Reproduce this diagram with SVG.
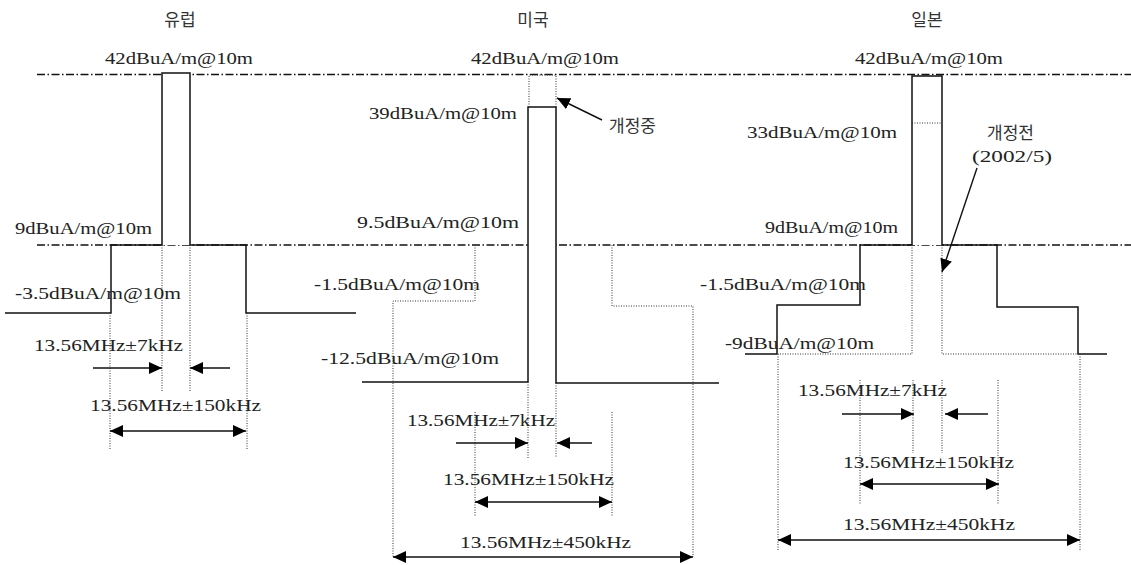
<svg xmlns="http://www.w3.org/2000/svg" width="1131" height="565" viewBox="0 0 1131 565">
<defs>
<style>
.t{font-family:"Liberation Serif","Times New Roman",serif;font-size:17px;fill:#222}
.k{font-family:"Noto Sans CJK KR","Noto Sans",sans-serif;font-size:17px;fill:#333}
.dd{fill:none;stroke:#111;stroke-width:1.3;stroke-dasharray:8 2.5 1.5 2.5}
.dot{fill:none;stroke:#333;stroke-width:1;stroke-dasharray:1 1.5}
.sol{fill:none;stroke:#111;stroke-width:1.5}
.wh{fill:#fff;stroke:none}
.ar{fill:none;stroke:#111;stroke-width:1.4}
</style>
<marker id="ah" viewBox="0 0 13 12" refX="13" refY="6" markerWidth="13" markerHeight="12" markerUnits="userSpaceOnUse" orient="auto-start-reverse">
<path d="M0,0 L13,6 L0,12 Z" fill="#000"/>
</marker>
</defs>
<rect width="1131" height="565" fill="#fff"/>
<g id="reference-lines">
<line class="dd" x1="37" y1="74.5" x2="1131" y2="74.5"/>
<line class="dd" x1="37" y1="245" x2="1131" y2="245"/>
</g>
<g id="europe">
<text class="k" x="180" y="26" text-anchor="middle">유럽</text>
<text class="t" x="105" y="64" textLength="148" lengthAdjust="spacingAndGlyphs">42dBuA/m@10m</text>
<rect class="wh" x="162" y="73" width="28" height="172"/>
<path class="sol" d="M5,313 H111 V245 H162 V73 H190 V245 H246 V313 H356"/>
<path class="dot" d="M162,245 V392 M190,245 V392 M110,313 V449 M247,313 V449"/>
<text class="t" x="15" y="234" textLength="137" lengthAdjust="spacingAndGlyphs">9dBuA/m@10m</text>
<text class="t" x="15" y="299" textLength="166" lengthAdjust="spacingAndGlyphs">-3.5dBuA/m@10m</text>
<text class="t" x="34" y="351" textLength="149" lengthAdjust="spacingAndGlyphs">13.56MHz±7kHz</text>
<text class="t" x="90" y="411" textLength="171" lengthAdjust="spacingAndGlyphs">13.56MHz±150kHz</text>
</g>
<g id="usa">
<text class="k" x="533" y="26" text-anchor="middle">미국</text>
<text class="t" x="471" y="64" textLength="148" lengthAdjust="spacingAndGlyphs">42dBuA/m@10m</text>
<rect class="wh" x="528" y="107" width="28" height="276"/>
<path class="sol" d="M362,382 H528 V107 H556 V383 H719"/>
<path class="dot" d="M529,107 V75 H556 V107 M475,245 V301 H393 V557 M612,245 V306 H693 V557 M528,382 V458 M556,383 V458 M475,412 V517 M612,412 V517"/>
<text class="t" x="369" y="119" textLength="148" lengthAdjust="spacingAndGlyphs">39dBuA/m@10m</text>
<text class="k" x="609" y="132">개정중</text>
<text class="t" x="357" y="228" textLength="162" lengthAdjust="spacingAndGlyphs">9.5dBuA/m@10m</text>
<text class="t" x="314" y="290" textLength="166" lengthAdjust="spacingAndGlyphs">-1.5dBuA/m@10m</text>
<text class="t" x="321" y="364" textLength="178" lengthAdjust="spacingAndGlyphs">-12.5dBuA/m@10m</text>
<text class="t" x="407" y="426" textLength="148" lengthAdjust="spacingAndGlyphs">13.56MHz±7kHz</text>
<text class="t" x="443" y="485" textLength="171" lengthAdjust="spacingAndGlyphs">13.56MHz±150kHz</text>
<text class="t" x="460" y="548" textLength="171" lengthAdjust="spacingAndGlyphs">13.56MHz±450kHz</text>
</g>
<g id="japan">
<text class="k" x="927" y="26" text-anchor="middle">일본</text>
<text class="t" x="855" y="64" textLength="148" lengthAdjust="spacingAndGlyphs">42dBuA/m@10m</text>
<rect class="wh" x="912" y="76" width="30" height="169"/>
<path class="sol" d="M745,354 H777 V305 H860 V245 H912 V76 H942 V245 H997 V307 H1078 V354 H1107"/>
<path class="dot" d="M912,123 H942 M912,245 V354 H778 M942,245 V354 H1078 M778,354 V550 M1080,354 V550 M860,380 V505 M998,380 V505 M913,380 V453 M942,380 V453"/>
<text class="t" x="747" y="138" textLength="150" lengthAdjust="spacingAndGlyphs">33dBuA/m@10m</text>
<text class="k" x="987" y="139">개정전</text>
<text class="t" x="972" y="162" textLength="80" lengthAdjust="spacingAndGlyphs">(2002/5)</text>
<text class="t" x="765" y="233" textLength="133" lengthAdjust="spacingAndGlyphs">9dBuA/m@10m</text>
<text class="t" x="700" y="290" textLength="166" lengthAdjust="spacingAndGlyphs">-1.5dBuA/m@10m</text>
<text class="t" x="725" y="349" textLength="149" lengthAdjust="spacingAndGlyphs">-9dBuA/m@10m</text>
<text class="t" x="798" y="396" textLength="149" lengthAdjust="spacingAndGlyphs">13.56MHz±7kHz</text>
<text class="t" x="843" y="468" textLength="171" lengthAdjust="spacingAndGlyphs">13.56MHz±150kHz</text>
<text class="t" x="843" y="530" textLength="172" lengthAdjust="spacingAndGlyphs">13.56MHz±450kHz</text>
</g>
<g id="connectors">
<line class="ar" x1="93" y1="368" x2="162" y2="368" marker-end="url(#ah)"/>
<line class="ar" x1="230" y1="368" x2="190" y2="368" marker-end="url(#ah)"/>
<line class="ar" x1="110" y1="431" x2="246" y2="431" marker-start="url(#ah)" marker-end="url(#ah)"/>
<line class="ar" x1="602" y1="120" x2="557" y2="98" marker-end="url(#ah)"/>
<line class="ar" x1="456" y1="443" x2="528" y2="443" marker-end="url(#ah)"/>
<line class="ar" x1="592" y1="443" x2="557" y2="443" marker-end="url(#ah)"/>
<line class="ar" x1="475" y1="502" x2="612" y2="502" marker-start="url(#ah)" marker-end="url(#ah)"/>
<line class="ar" x1="393" y1="557" x2="693" y2="557" marker-start="url(#ah)" marker-end="url(#ah)"/>
<line class="ar" x1="977" y1="168" x2="942" y2="272" marker-end="url(#ah)"/>
<line class="ar" x1="842" y1="414" x2="914" y2="414" marker-end="url(#ah)"/>
<line class="ar" x1="988" y1="414" x2="945" y2="414" marker-end="url(#ah)"/>
<line class="ar" x1="860" y1="484" x2="999" y2="484" marker-start="url(#ah)" marker-end="url(#ah)"/>
<line class="ar" x1="778" y1="540" x2="1080" y2="540" marker-start="url(#ah)" marker-end="url(#ah)"/>
</g>
</svg>
